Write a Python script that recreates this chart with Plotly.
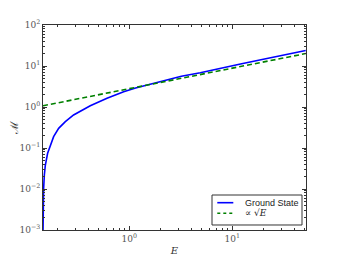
import plotly.graph_objects as go
import numpy as np

# Ground state curve
E_ground = [0.1453, 0.1462, 0.1472, 0.1496, 0.1529, 0.161, 0.171, 0.1841,
            0.206, 0.2392, 0.2877, 0.35, 0.4178, 0.6074, 0.731, 0.881,
            1.15, 1.486, 2.2, 3.2, 4.887, 8.0, 12.0, 20.0, 32.0, 51.6]
M_ground = [0.001, 0.0050, 0.0100, 0.022, 0.0375, 0.0743, 0.118, 0.1887,
            0.302, 0.438, 0.638, 0.850, 1.076, 1.63, 1.963, 2.36,
            2.9, 3.44, 4.45, 5.6, 6.87, 9.1, 11.2, 14.6, 18.6, 23.8]

# sqrt(E) reference line
E_sqrt = [0.1452, 1.0, 10.0, 51.6]
M_sqrt = [1.07, 2.8, 8.85, 20.1]

legend_names = ["Ground State", "∝ √<i>E</i>"]
colors = ["#0000ff", "#008000"]

x_major = [1, 10]
x_major_text = ["10<sup>0</sup>", "10<sup>1</sup>"]
y_major = [1e-3, 1e-2, 1e-1, 1, 10, 100]
y_major_text = ["10<sup>−3</sup>", "10<sup>−2</sup>", "10<sup>−1</sup>",
                "10<sup>0</sup>", "10<sup>1</sup>", "10<sup>2</sup>"]

minor_x = [m * 10.0 ** k for k in range(-1, 2) for m in range(2, 10)]
minor_y = [m * 10.0 ** k for k in range(-3, 2) for m in range(2, 10)]

fig = go.Figure()
fig.add_trace(go.Scatter(x=E_ground, y=M_ground, mode="lines", name=legend_names[0],
                         showlegend=False,
                         line=dict(color=colors[0], width=1.6)))
fig.add_trace(go.Scatter(x=E_sqrt, y=M_sqrt, mode="lines", name=legend_names[1],
                         showlegend=False,
                         line=dict(color=colors[1], width=1.6, dash="5px,3px")))

axis_common = dict(
    showgrid=False, zeroline=False, showline=True, linecolor="#333333", linewidth=1,
    mirror="ticks", ticks="inside", ticklen=4, tickcolor="#333333", automargin=False,
    tickfont=dict(family="DejaVu Serif", size=9, color="#555555"),
)

fig.update_xaxes(type="log", range=[np.log10(0.1452), np.log10(51.9)],
                 tickmode="array", tickvals=x_major, ticktext=x_major_text,
                 minor=dict(ticks="inside", ticklen=2, tickcolor="#333333",
                            tickmode="array", tickvals=minor_x),
                 title=dict(text="<i>E</i>", font=dict(family="DejaVu Serif", size=10, color="#333"),
                            standoff=7),
                 **axis_common)
fig.update_yaxes(type="log", range=[-3, 2],
                 tickmode="array", tickvals=y_major, ticktext=y_major_text,
                 minor=dict(ticks="inside", ticklen=2, tickcolor="#333333",
                            tickmode="array", tickvals=minor_y),
                 title=dict(text="ℳ", font=dict(family="DejaVu Serif", size=11, color="#333"),
                            standoff=4),
                 **axis_common)

# manual legend box (matplotlib-like compact legend)
fig.add_shape(type="rect", xref="paper", yref="paper", x0=0.6426, x1=0.9848,
              y0=0.0244, y1=0.1707, line=dict(color="#333333", width=1),
              fillcolor="white", layer="above")
leg_y = [0.1332, 0.0815]
dashes = ["solid", "3px,3px"]
for i in range(2):
    fig.add_shape(type="line", xref="paper", yref="paper", x0=0.6627, x1=0.7236,
                  y0=leg_y[i], y1=leg_y[i], line=dict(color=colors[i], width=1.6, dash=dashes[i]),
                  layer="above")
    fig.add_annotation(xref="paper", yref="paper", x=0.7593, y=leg_y[i],
                       xanchor="left", yanchor="middle", showarrow=False,
                       text=legend_names[i],
                       font=dict(family="Liberation Sans" if i == 0 else "DejaVu Serif",
                                 size=9, color="#222"))

fig.update_layout(
    width=333, height=248,
    margin=dict(l=35, r=35, t=17, b=26),
    paper_bgcolor="white", plot_bgcolor="white",
    showlegend=False,
)

fig.write_html("out.html")
